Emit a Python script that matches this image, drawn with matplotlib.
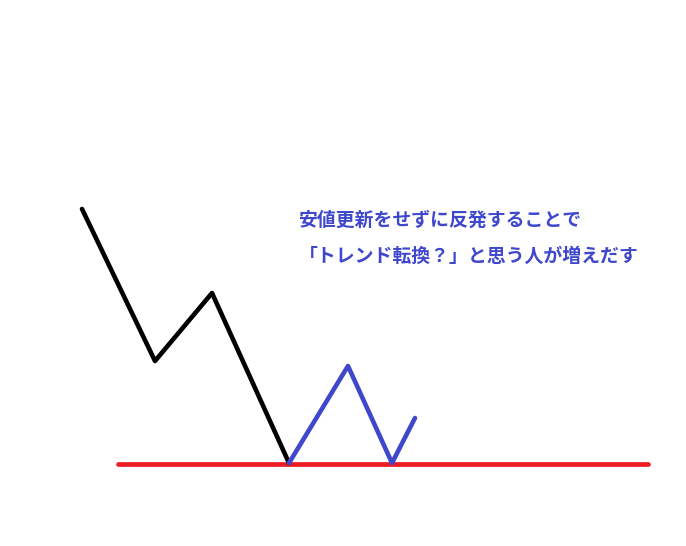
import matplotlib
matplotlib.use("Agg")
import matplotlib.pyplot as plt

plt.rcParams['font.family'] = ['Noto Sans CJK JP', 'DejaVu Sans']

# price path before the low (pixel-like units, y grows downward)
down_x = [82, 155, 212, 289]
down_y = [209, 361, 293, 463]

# bounce path after the low
bounce_x = [289, 348, 392, 415]
bounce_y = [463, 366, 463, 418]

# support line
support_x = [118, 648]
support_y = [464, 464]

notes = ["安値更新をせずに反発することで", "「トレンド転換？」と思う人が増えだす"]

blue = "#3f48cc"

fig = plt.figure(figsize=(6.86, 5.46), dpi=100)
ax = fig.add_axes([0, 0, 1, 1])
ax.set_xlim(0, 686)
ax.set_ylim(546, 0)
ax.axis("off")

ax.plot(support_x, support_y, color="#ed1c24", lw=3.4, solid_capstyle="round")
ax.plot(down_x, down_y, color="black", lw=3.3, solid_joinstyle="round", solid_capstyle="round")
ax.plot(bounce_x, bounce_y, color=blue, lw=3.3, solid_joinstyle="round", solid_capstyle="round")

ax.text(299, 220, notes[0], color=blue, fontsize=13.6, fontweight="bold", va="center", ha="left")
ax.text(299, 256, notes[1], color=blue, fontsize=13.6, fontweight="bold", va="center", ha="left")

fig.savefig("out.png", dpi=100)
